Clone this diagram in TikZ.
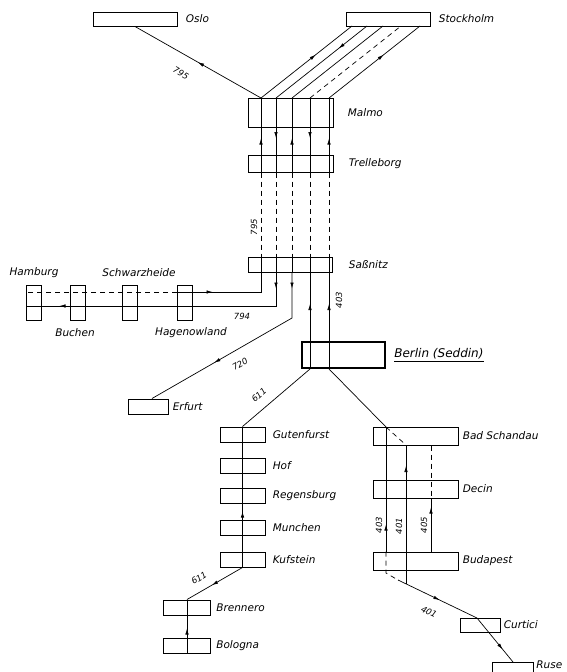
\documentclass[tikz,border=0pt]{standalone}
\usepackage{fontspec}
\setsansfont{DejaVu Sans}
\usepackage{tikz}
\usetikzlibrary{arrows.meta,decorations.markings}

\begin{document}
\begin{tikzpicture}[x=1pt, y=-1pt, line width=0.7pt,
  stn/.style={draw, line width=1pt, inner sep=0pt, minimum height=15pt},
  stnv/.style={stn, minimum width=15pt, minimum height=35pt},
  lbl/.style={font=\sffamily\itshape\fontsize{10.5}{12}\selectfont, anchor=west, inner sep=0pt},
  num/.style={font=\sffamily\itshape\fontsize{8.5}{10}\selectfont, inner sep=1pt},
  dsh/.style={dash pattern=on 5pt off 4pt},
  arr/.style={postaction={decorate, decoration={markings, mark=at position #1 with {\arrow{Latex[length=6pt, width=3.5pt]}}}}},
  rarr/.style={postaction={decorate, decoration={markings, mark=at position #1 with {\arrowreversed{Latex[length=6pt, width=3.5pt]}}}}}]
\useasboundingbox (0,0) rectangle (567,672);

\node[stn, minimum width=84pt, minimum height=14pt] (oslo) at (135,19) {};
\node[stn, minimum width=84pt, minimum height=14pt] (stockholm) at (388,19) {};
\node[stn, minimum width=85pt, minimum height=29pt] (malmo) at (290.5,112.5) {};
\node[stn, minimum width=85pt, minimum height=17pt] (trelleborg) at (290.5,163.5) {};
\node[stn, minimum width=84pt] (sassnitz) at (290,264.5) {};
\node[stnv] (hamburg) at (33.5,302.5) {};
\node[stnv] (buchen) at (77.5,302.5) {};
\node[stnv] (schwarzheide) at (129.5,302.5) {};
\node[stnv] (hagenow) at (185,302.5) {};
\node[stn, minimum width=83pt, minimum height=26pt, line width=2pt] (berlin) at (343.5,355) {};
\node[stn, minimum width=40pt] (erfurt) at (148,406.5) {};
\foreach \n/\y in {gutenfurst/434.5, hof/465.5, regensburg/495.5, muenchen/527.5, kufstein/559.5}
  \node[stn, minimum width=45pt] (\n) at (242.5,\y) {};
\node[stn, minimum width=47pt] (brennero) at (187,607.5) {};
\node[stn, minimum width=47pt] (bologna) at (187,645.5) {};
\foreach \n/\y in {badschandau/436, decin/489, budapest/561}
  \node[stn, minimum width=85pt, minimum height=18pt] (\n) at (415.5,\y) {};
\node[stn, minimum width=40pt, minimum height=14pt] (curtici) at (480,625) {};
\node[stn, minimum width=41pt] (ruse) at (512.5,669.5) {};

\node[lbl] (osloL) at ([xshift=8pt]oslo.east) {Oslo};
\node[lbl] (stockholmL) at ([xshift=8pt]stockholm.east) {Stockholm};
\node[lbl] (malmoL) at ([xshift=14pt]malmo.east) {Malmo};
\node[lbl] (trelleborgL) at ([xshift=15pt]trelleborg.east) {Trelleborg};
\node[lbl] (sassnitzL) at ([xshift=16pt]sassnitz.east) {Saßnitz};
\node[lbl, anchor=center] (hamburgL) at (34,273) {Hamburg};
\node[lbl, anchor=center] (schwarzheideL) at (139,273) {Schwarzheide};
\node[lbl, anchor=center] (buchenL) at (75,333) {Buchen};
\node[lbl, anchor=center] (hagenowL) at (191,333) {Hagenowland};
\node[lbl, font=\sffamily\itshape\fontsize{12}{14}\selectfont] (berlinL) at ([xshift=8pt]berlin.east) {\underline{Berlin (Seddin)}};
\node[lbl] (erfurtL) at ([xshift=4pt]erfurt.east) {Erfurt};
\node[lbl] (gutenfurstL) at ([xshift=7pt]gutenfurst.east) {Gutenfurst};
\node[lbl] (hofL) at ([xshift=7pt]hof.east) {Hof};
\node[lbl] (regensburgL) at ([xshift=7pt]regensburg.east) {Regensburg};
\node[lbl] (muenchenL) at ([xshift=7pt]muenchen.east) {Munchen};
\node[lbl] (kufsteinL) at ([xshift=7pt]kufstein.east) {Kufstein};
\node[lbl] (brenneroL) at ([xshift=5pt]brennero.east) {Brennero};
\node[lbl] (bolognaL) at ([xshift=5pt]bologna.east) {Bologna};
\node[lbl] (badschandauL) at ([xshift=4pt]badschandau.east) {Bad Schandau};
\node[lbl] (decinL) at ([xshift=4pt]decin.east) {Decin};
\node[lbl] (budapestL) at ([xshift=4pt]budapest.east) {Budapest};
\node[lbl] (curticiL) at ([xshift=3pt]curtici.east) {Curtici};
\node[lbl] (ruseL) at (536,665) {Ruse};

\foreach \i/\x in {1/261,2/276,3/292,4/310,5/329} {
  \coordinate (m\i) at (\x,98);
  \coordinate (s\i) at (\x+91,26);
}

\draw[rarr=0.5] (oslo.south) -- (m1);
\node[num, rotate=-30] (r795a) at (181,73) {795};
\draw[arr=0.6] (m1) -- (s1);
\draw[rarr=0.69] (m2) -- (s2);
\draw (m3) -- (s3);
\draw[dsh] (m4) -- (s4);
\draw[arr=0.6] (m5) -- (s5);

\foreach \i in {1,3,5} \draw[arr=34pt] (m\i |- trelleborg.south) -- (m\i);
\foreach \i in {2,4} \draw[arr=40pt] (m\i) -- (m\i |- trelleborg.south);
\foreach \i in {1,...,5} {
  \draw[dsh] (m\i |- trelleborg.south) -- (m\i |- sassnitz.north);
  \draw (m\i |- sassnitz.north) -- (m\i |- sassnitz.south);
}
\node[num, rotate=90] (r795b) at (254,227) {795};

\coordinate (h1) at (261,292);
\coordinate (h2) at (276,306);
\coordinate (e3) at (292,318);
\draw[rarr=68pt] (m1 |- sassnitz.south) -- (h1) -- (h1 -| hagenow.west);
\draw[dsh] (h1 -| hagenow.west) -- (h1 -| hamburg.west);
\draw[arr=16pt, arr=250pt] (m2 |- sassnitz.south) -- (h2) -- (h2 -| hamburg.west);
\node[num] (r794) at (242,316) {794};
\draw[arr=16pt, arr=135pt] (m3 |- sassnitz.south) -- (e3) -- ([xshift=4pt]erfurt.north);
\node[num, rotate=30] (r720) at (240,364) {720};

\coordinate (b4) at (m4 |- berlin.south);
\coordinate (b5) at (m5 |- berlin.south);
\draw[arr=65pt] (b4) -- (m4 |- sassnitz.south);
\draw[arr=65pt] (b5) -- (m5 |- sassnitz.south);
\node[num, rotate=90] (r403a) at (339,300) {403};

\draw (gutenfurst.north) -- (b4);
\node[num, rotate=41] (r611a) at (259,395) {611};
\draw[rarr=85pt] (gutenfurst.north) -- (kufstein.south);
\draw[arr=0.55] (kufstein.south) -- (brennero.north);
\node[num, rotate=31] (r611b) at (199,578) {611};
\draw[arr=25pt] (bologna.south) -- (brennero.north);

\coordinate (bs) at (386,427);
\coordinate (bs1) at (406,445);
\coordinate (jn) at (398,580);
\coordinate (jn1) at (406,584);
\coordinate (ct) at (477,618);
\coordinate (rt) at (513,662);
\draw (b5) -- (bs);
\draw[dsh] (bs) -- (bs1);
\draw[arr=27pt] (bs |- budapest.north) -- (bs);
\draw[dsh] (bs |- budapest.north) -- (386,573) -- (jn);
\draw[arr=118pt] (jn1) -- (bs1);
\draw[dsh] (badschandau.south -| 431,0) -- (decin.south -| 431,0);
\draw[arr=44pt] (budapest.north -| 431,0) -- (decin.south -| 431,0);
\node[num, rotate=90] (r403b) at (379,525) {403};
\node[num, rotate=90] (r401a) at (399,526) {401};
\node[num, rotate=90] (r405) at (424,525) {405};
\draw[arr=46pt, arr=128pt] (jn) -- (ct) -- (rt);
\node[num, rotate=-26] (r401b) at (429,612) {401};
\end{tikzpicture}
\end{document}
